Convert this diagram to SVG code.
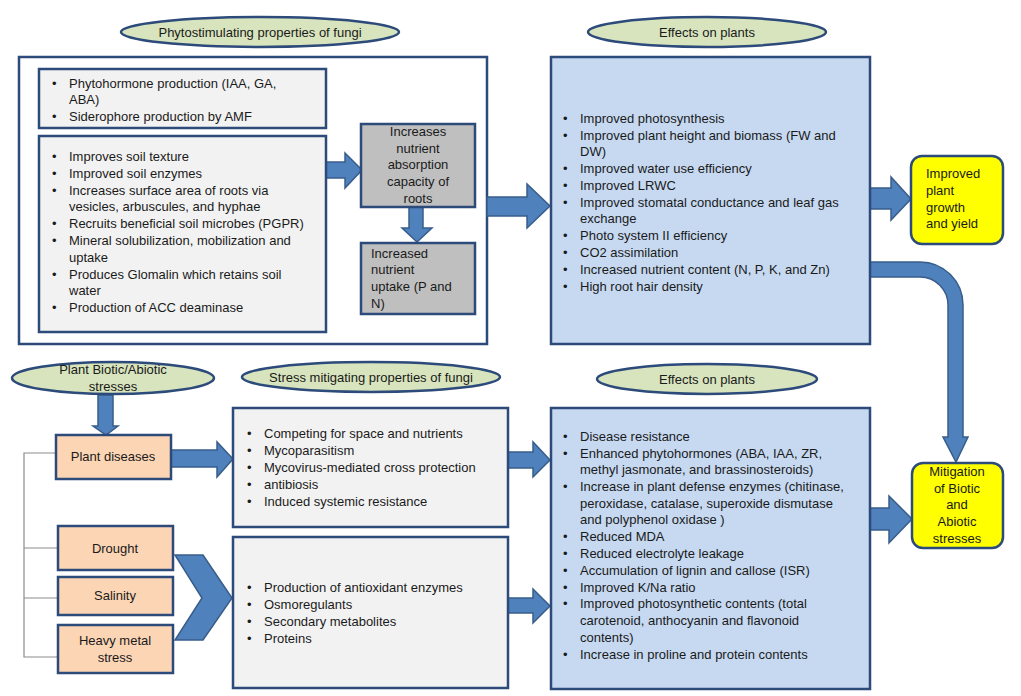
<svg xmlns="http://www.w3.org/2000/svg" width="1021" height="696" viewBox="0 0 1021 696">
<defs>
<style>
text{font-family:"Liberation Sans",Arial,sans-serif;font-size:13px;fill:#1a1a1a}
.c{text-anchor:middle}
.ell{fill:#d7e4bd;stroke:#2c4a7a;stroke-width:2.5}
.box{stroke:#2c4a7a;stroke-width:2.5}
.lg{fill:#f2f2f2}
.dg{fill:#bfbfbf}
.bl{fill:#c6d9f1}
.pe{fill:#fcd5b5}
.ye{fill:#ffff00}
.wh{fill:#ffffff}
.arr{fill:#4f81bd;stroke:#385d8a;stroke-width:1.5;stroke-linejoin:miter}
.brk{fill:none;stroke:#8c8c8c;stroke-width:1.2}
</style>
</defs>
<rect width="1021" height="696" fill="#ffffff"/>

<g id="outer-box">
<rect class="box wh" x="19" y="57" width="468" height="287"/>
</g>

<g id="connectors">
<!-- box2 -> gray box -->
<path class="arr" d="M326,162 H345 V153 L362,170 L345,188 V178 H326 Z"/>
<!-- gray box -> gray box 2 -->
<path class="arr" d="M409,207 H423 V228 H432 L417,242 L402,228 H409 Z"/>
<!-- outer box -> blue -->
<path class="arr" d="M487,197 H527 V184 L550,206 L527,228 V216 H487 Z"/>
<!-- blue -> yellow -->
<path class="arr" d="M870,188 H891 V177 L911,199 L891,220 V209 H870 Z"/>
<!-- curved arrow -->
<path class="arr" d="M870,262 H920 A43,43 0 0 1 963,305 V437 H968 L956,462 L943,437 H948 V305 A28,28 0 0 0 920,277 H870 Z"/>
<!-- stresses -> plant diseases -->
<path class="arr" d="M98,395 H113 V426 H118 L106,435 L93,426 H98 Z"/>
<!-- plant diseases -> mitigation 1 -->
<path class="arr" d="M171,450 H217 V442 L233,459 L217,477 V467 H171 Z"/>
<!-- chevron -->
<path class="arr" d="M175,555 H203 L232,598 L203,640 H175 L202,598 Z"/>
<!-- mitigation 1 -> effects -->
<path class="arr" d="M508,452 H533 V442 L550,460 L533,477 V468 H508 Z"/>
<!-- mitigation 2 -> effects -->
<path class="arr" d="M508,598 H533 V589 L550,606 L533,623 V613 H508 Z"/>
<!-- effects 2 -> yellow 2 -->
<path class="arr" d="M870,508 H889 V496 L912,519 L889,543 V530 H870 Z"/>
<!-- bracket -->
<path class="brk" d="M56,453 H24 V657 H58 M24,548 H58 M24,598 H58"/>
</g>

<g id="title-phyto">
<ellipse class="ell" cx="260" cy="32" rx="139" ry="15"/>
<text class="c" x="260" y="37">Phytostimulating properties of fungi</text>
</g>

<g id="phyto-box1">
<rect class="box lg" x="39" y="69" width="287" height="59"/>
<text x="52" y="88">•</text><text x="69" y="88">Phytohormone production (IAA, GA,</text>
<text x="69" y="104">ABA)</text>
<text x="52" y="121">•</text><text x="69" y="121">Siderophore production by AMF</text>
</g>

<g id="phyto-box2">
<rect class="box lg" x="39" y="136" width="287" height="196"/>
<text x="52" y="161">•</text><text x="69" y="161">Improves soil texture</text>
<text x="52" y="178">•</text><text x="69" y="178">Improved soil enzymes</text>
<text x="52" y="195">•</text><text x="69" y="195">Increases surface area of roots via</text>
<text x="69" y="211">vesicles, arbuscules, and hyphae</text>
<text x="52" y="228">•</text><text x="69" y="228">Recruits beneficial soil microbes (PGPR)</text>
<text x="52" y="245">•</text><text x="69" y="245">Mineral solubilization, mobilization and</text>
<text x="69" y="262">uptake</text>
<text x="52" y="279">•</text><text x="69" y="279">Produces Glomalin which retains soil</text>
<text x="69" y="295">water</text>
<text x="52" y="312">•</text><text x="69" y="312">Production of ACC deaminase</text>
</g>

<g id="absorption">
<rect class="box dg" x="361" y="124" width="114" height="83"/>
<text class="c" x="418" y="136">Increases</text>
<text class="c" x="418" y="153">nutrient</text>
<text class="c" x="418" y="169">absorption</text>
<text class="c" x="418" y="186">capacity of</text>
<text class="c" x="418" y="203">roots</text>
</g>

<g id="uptake">
<rect class="box dg" x="361" y="243" width="114" height="71"/>
<text x="371" y="258">Increased</text>
<text x="371" y="274">nutrient</text>
<text x="371" y="291">uptake (P and</text>
<text x="371" y="308">N)</text>
</g>

<g id="title-effects1">
<ellipse class="ell" cx="707" cy="32" rx="119" ry="15"/>
<text class="c" x="707" y="37">Effects on plants</text>
</g>

<g id="effects1">
<rect class="box bl" x="551" y="57" width="319" height="287"/>
<text x="563" y="123">•</text><text x="580" y="123">Improved photosynthesis</text>
<text x="563" y="140">•</text><text x="580" y="140">Improved plant height and biomass (FW and</text>
<text x="580" y="156">DW)</text>
<text x="563" y="173">•</text><text x="580" y="173">Improved water use efficiency</text>
<text x="563" y="190">•</text><text x="580" y="190">Improved LRWC</text>
<text x="563" y="207">•</text><text x="580" y="207">Improved stomatal conductance and leaf gas</text>
<text x="580" y="223">exchange</text>
<text x="563" y="240">•</text><text x="580" y="240">Photo system II efficiency</text>
<text x="563" y="257">•</text><text x="580" y="257">CO2 assimilation</text>
<text x="563" y="274">•</text><text x="580" y="274">Increased nutrient content (N, P, K, and Zn)</text>
<text x="563" y="291">•</text><text x="580" y="291">High root hair density</text>
</g>

<g id="growth">
<rect class="box ye" x="911" y="156" width="92" height="88" rx="11"/>
<text x="926" y="178">Improved</text>
<text x="926" y="195">plant</text>
<text x="926" y="212">growth</text>
<text x="926" y="228">and yield</text>
</g>

<g id="title-stresses">
<ellipse class="ell" cx="113" cy="378" rx="101" ry="16"/>
<text class="c" x="113" y="374">Plant Biotic/Abiotic</text>
<text class="c" x="113" y="391">stresses</text>
</g>

<g id="plant-diseases">
<rect class="box pe" x="56" y="435" width="115" height="44"/>
<text class="c" x="113" y="461">Plant diseases</text>
</g>

<g id="drought">
<rect class="box pe" x="58" y="526" width="115" height="44"/>
<text class="c" x="115" y="553">Drought</text>
</g>

<g id="salinity">
<rect class="box pe" x="58" y="577" width="115" height="38"/>
<text class="c" x="115" y="600">Salinity</text>
</g>

<g id="heavy-metal">
<rect class="box pe" x="58" y="625" width="115" height="48"/>
<text class="c" x="115" y="645">Heavy metal</text>
<text class="c" x="115" y="662">stress</text>
</g>

<g id="title-mitigating">
<ellipse class="ell" cx="371" cy="377" rx="129" ry="15"/>
<text class="c" x="371" y="382">Stress mitigating properties of fungi</text>
</g>

<g id="mitigation1">
<rect class="box lg" x="233" y="408" width="275" height="119"/>
<text x="247" y="438">•</text><text x="264" y="438">Competing for space and nutrients</text>
<text x="247" y="455">•</text><text x="264" y="455">Mycoparasitism</text>
<text x="247" y="472">•</text><text x="264" y="472">Mycovirus-mediated cross protection</text>
<text x="247" y="489">•</text><text x="264" y="489">antibiosis</text>
<text x="247" y="506">•</text><text x="264" y="506">Induced systemic resistance</text>
</g>

<g id="mitigation2">
<rect class="box lg" x="233" y="537" width="275" height="151"/>
<text x="247" y="592">•</text><text x="264" y="592">Production of antioxidant enzymes</text>
<text x="247" y="609">•</text><text x="264" y="609">Osmoregulants</text>
<text x="247" y="626">•</text><text x="264" y="626">Secondary metabolites</text>
<text x="247" y="643">•</text><text x="264" y="643">Proteins</text>
</g>

<g id="title-effects2">
<ellipse class="ell" cx="707" cy="379" rx="110" ry="15"/>
<text class="c" x="707" y="384">Effects on plants</text>
</g>

<g id="effects2">
<rect class="box bl" x="551" y="408" width="319" height="281"/>
<text x="563" y="441">•</text><text x="580" y="441">Disease resistance</text>
<text x="563" y="458">•</text><text x="580" y="458">Enhanced phytohormones (ABA, IAA, ZR,</text>
<text x="580" y="474">methyl jasmonate, and brassinosteroids)</text>
<text x="563" y="491">•</text><text x="580" y="491">Increase in plant defense enzymes (chitinase,</text>
<text x="580" y="508">peroxidase, catalase, superoxide dismutase</text>
<text x="580" y="524">and polyphenol oxidase )</text>
<text x="563" y="541">•</text><text x="580" y="541">Reduced MDA</text>
<text x="563" y="558">•</text><text x="580" y="558">Reduced electrolyte leakage</text>
<text x="563" y="575">•</text><text x="580" y="575">Accumulation of lignin and callose (ISR)</text>
<text x="563" y="592">•</text><text x="580" y="592">Improved K/Na ratio</text>
<text x="563" y="608">•</text><text x="580" y="608">Improved photosynthetic contents (total</text>
<text x="580" y="625">carotenoid, anthocyanin and flavonoid</text>
<text x="580" y="642">contents)</text>
<text x="563" y="659">•</text><text x="580" y="659">Increase in proline and protein contents</text>
</g>

<g id="mitigation-result">
<rect class="box ye" x="912" y="463" width="91" height="85" rx="11"/>
<text class="c" x="957" y="476">Mitigation</text>
<text class="c" x="957" y="493">of Biotic</text>
<text class="c" x="957" y="509">and</text>
<text class="c" x="957" y="526">Abiotic</text>
<text class="c" x="957" y="543">stresses</text>
</g>
</svg>
